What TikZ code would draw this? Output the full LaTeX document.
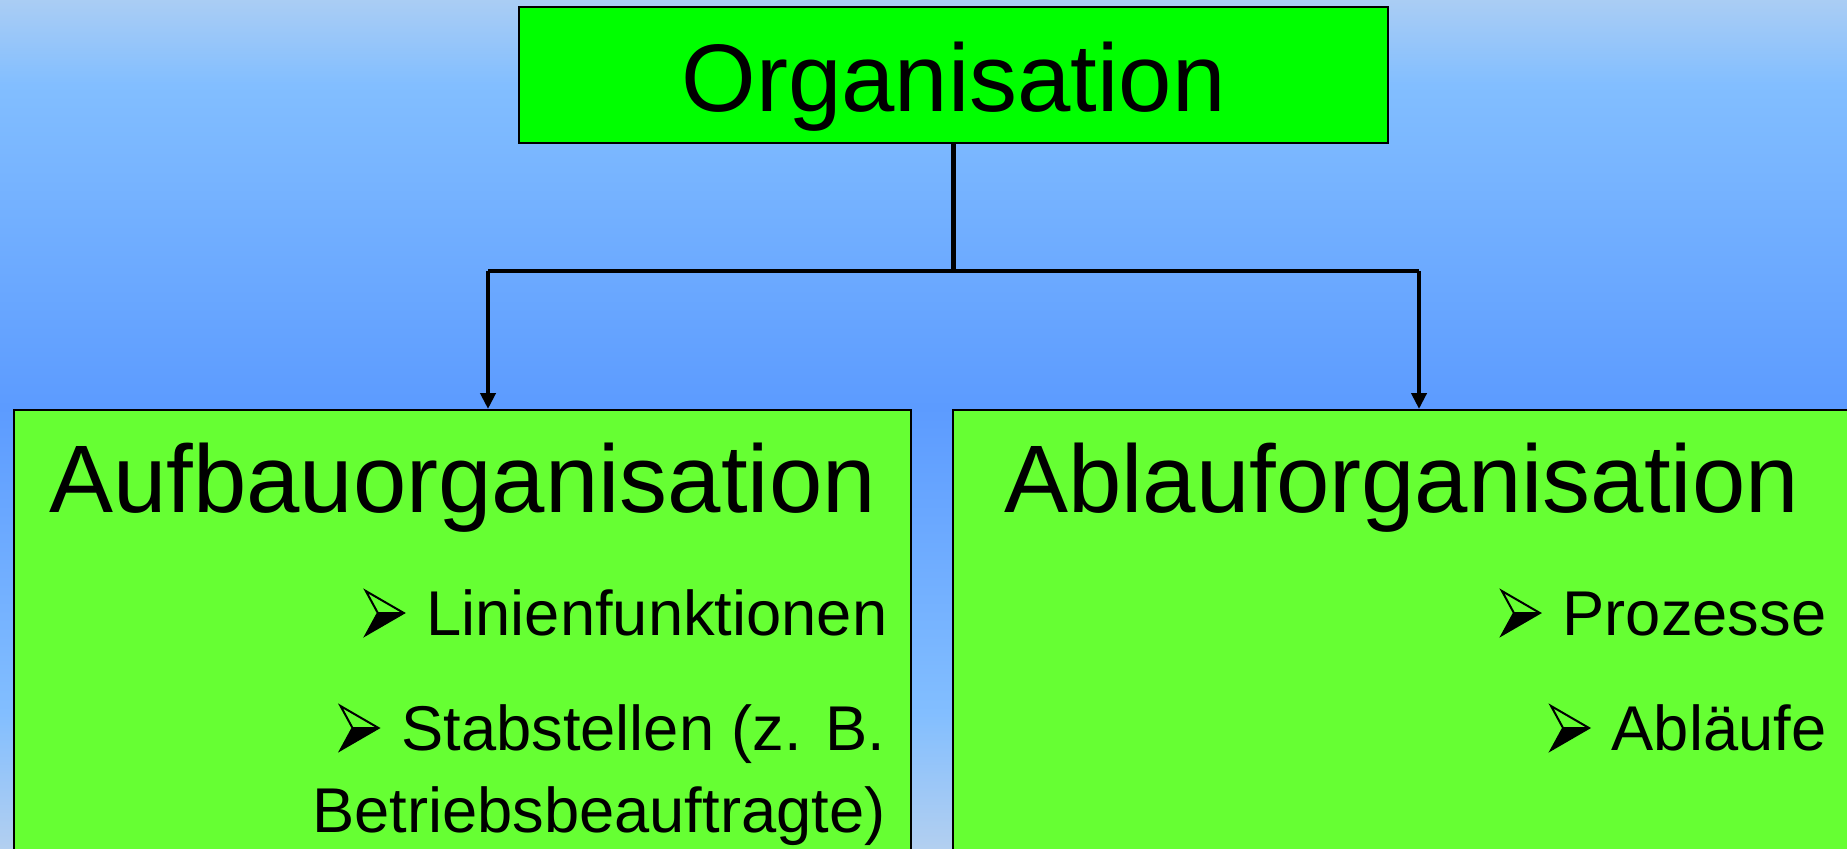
\documentclass[tikz,border=0pt]{standalone}
\usepackage{fontspec}
\setmainfont{Liberation Sans}
\usetikzlibrary{arrows.meta}

\definecolor{bgtop}{RGB}{170,205,244}
\definecolor{bglight}{RGB}{130,190,255}
\definecolor{bgdark}{RGB}{92,155,255}
\definecolor{bgbot}{RGB}{178,207,240}
\definecolor{orggreen}{RGB}{0,255,0}
\definecolor{boxgreen}{RGB}{102,255,51}

% background: light at the edges, darker blue in the middle
% (tikz maps 25bp..75bp of the shading onto the path)
\pgfdeclareverticalshading{himmel}{100bp}{color(0bp)=(bgbot); color(25bp)=(bgbot); color(33bp)=(bglight); color(51bp)=(bgdark); color(70bp)=(bglight); color(75bp)=(bgtop); color(100bp)=(bgtop)}

\tikzset{
    oben/.style={draw=black, line width=0.2mm, fill=orggreen, inner sep=0pt,
        minimum width=86.9mm, minimum height=13.6mm,
        font=\fontsize{27.3}{30}\selectfont, text height=7.4mm, text depth=0pt},
    unten/.style={draw=black, line width=0.2mm, fill=boxgreen, inner sep=0pt,
        minimum width=89.7mm, minimum height=50mm, anchor=north},
    titel/.style={inner sep=0pt, anchor=base, font=\fontsize{27.3}{30}\selectfont},
    punkt/.style={inner sep=0pt, anchor=base east, font=\fontsize{18}{23}\selectfont},
    linie/.style={draw=black, line width=0.45mm},
    pfeillinie/.style={linie, -{Triangle[width=1.5mm, length=1.6mm]}},
    pfeil/.pic={
        % bullet: upper half outlined, lower half filled
        \fill[black] (12,-22) -- (38,-22) -- (0,0) -- cycle;
        \draw[black, line width=0.2mm, line join=miter]
            (0,-44) -- (38,-22) -- (0,0) -- (12,-22) -- cycle;
        \draw[black, line width=0.2mm] (12,-22) -- (38,-22);
    }
}

\begin{document}
\begin{tikzpicture}[x=0.1mm, y=-0.1mm]
    \useasboundingbox (0,0) rectangle (1847,848);
    \clip (0,0) rectangle (1847,848);
    \shade[shading=himmel] (0,0) rectangle (1847,848);

    % boxes
    \node[oben] (org) at (953.5,75) {Organisation};
    \node[unten] (aufbau) at (462.5,409) {};
    \node[unten] (ablauf) at (1401.5,409) {};

    % connectors
    \coordinate (lgabel) at (488,271);
    \coordinate (rgabel) at (1419,271);
    \draw[linie] (org.south) -- (org.south |- lgabel);
    \draw[linie] (lgabel) -- (rgabel);
    \draw[pfeillinie] (lgabel) -- (lgabel |- aufbau.north);
    \draw[pfeillinie] (rgabel) -- (rgabel |- ablauf.north);

    % headings
    \node[titel] (aufbautitel) at (462.5,512) {Aufbauorganisation};
    \node[titel] (ablauftitel) at (1401.5,512) {Ablauforganisation};

    % items, left box
    \node[punkt] (linien) at (888,635) {Linienfunktionen};
    \node[punkt] (stab) at (886,750) {Stabstellen (z. B.};
    \node[punkt] (beauftragte) at (886,832) {Betriebsbeauftragte)};
    \pic[xshift=-6mm] at (linien.base west) {pfeil};
    \pic[xshift=-6mm] at (stab.base west) {pfeil};

    % items, right box
    \node[punkt] (prozesse) at (1827,635) {Prozesse};
    \node[punkt] (ablaeufe) at (1827,750) {Abläufe};
    \pic[xshift=-6mm] at (prozesse.base west) {pfeil};
    \pic[xshift=-6mm] at (ablaeufe.base west) {pfeil};
\end{tikzpicture}
\end{document}
